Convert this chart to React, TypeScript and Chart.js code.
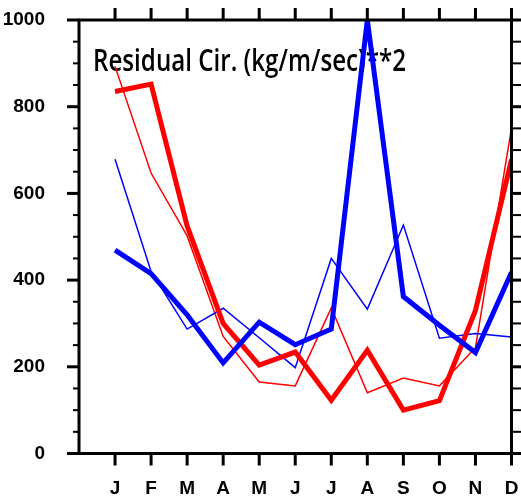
import { useEffect, useRef } from 'react';
import { Chart, registerables } from 'chart.js';

Chart.register(...registerables);

const months = ['J', 'F', 'M', 'A', 'M', 'J', 'J', 'A', 'S', 'O', 'N', 'D'];
const monthIndex = [1, 2, 3, 4, 5, 6, 7, 8, 9, 10, 11, 12];
const thickRed = [835, 852, 525, 300, 204, 234, 123, 238, 100, 122, 330, 678];
const thinRed = [893, 647, 502, 270, 165, 156, 336, 140, 174, 156, 244, 751];
const thickBlue = [469, 415, 320, 209, 303, 251, 287, 1000, 362, 296, 233, 418];
const thinBlue = [679, 420, 287, 335, 267, 198, 450, 333, 527, 266, 277, 269];
const yMajorTicks = [0, 200, 400, 600, 800, 1000];
const yMinorStep = 50;
const titleText = 'Residual Cir. (kg/m/sec)**2';

const toPoints = (vals: number[]) => vals.map((v, i) => ({ x: monthIndex[i], y: v }));

const titlePlugin = {
  id: 'innerTitle',
  beforeDatasetsDraw(chart: any) {
    const { ctx, chartArea: a } = chart;
    ctx.save();
    ctx.font = '600 30px "Open Sans"';
    ctx.fillStyle = '#000';
    ctx.textAlign = 'left';
    ctx.textBaseline = 'alphabetic';
    ctx.fillText(titleText, a.left + 14, a.top + 51, 313);
    ctx.restore();
  },
};

const framePlugin = {
  id: 'frame',
  afterDraw(chart: any) {
    const { ctx, chartArea: a, scales } = chart;
    const xs = scales.x;
    const ys = scales.y;
    const line = (x1: number, y1: number, x2: number, y2: number) => {
      ctx.beginPath();
      ctx.moveTo(x1, y1);
      ctx.lineTo(x2, y2);
      ctx.stroke();
    };
    ctx.save();
    ctx.strokeStyle = '#000';
    ctx.lineCap = 'butt';
    const yMax = yMajorTicks[yMajorTicks.length - 1];
    for (let v = 0; v <= yMax; v += yMinorStep) {
      const py = ys.getPixelForValue(v);
      const major = yMajorTicks.includes(v);
      ctx.lineWidth = major ? 3 : 2;
      line(a.left - (major ? 12 : 6), py, a.left, py);
      line(a.right, py, a.right + (major ? 12 : 10), py);
    }
    ctx.lineWidth = 3;
    monthIndex.forEach((m) => {
      const px = xs.getPixelForValue(m);
      line(px, a.bottom, px, a.bottom + 12);
      line(px, a.top - 12, px, a.top);
    });
    ctx.lineWidth = 3;
    ctx.lineJoin = 'miter';
    ctx.strokeRect(a.left, a.top, a.right - a.left, a.bottom - a.top);
    ctx.restore();
  },
};

export default function App() {
  const ref = useRef<HTMLCanvasElement | null>(null);
  useEffect(() => {
    if (!ref.current) return;
    const tickFont = { family: '"Liberation Sans", Arial, sans-serif', size: 19, weight: 'bold' as const };
    const chart = new Chart(ref.current, {
      type: 'line',
      data: {
        datasets: [
          { label: 'thick blue', data: toPoints(thickBlue), borderColor: '#0000ff', borderWidth: 5, order: 1 },
          { label: 'thick red', data: toPoints(thickRed), borderColor: '#ff0000', borderWidth: 5, order: 2 },
          { label: 'thin blue', data: toPoints(thinBlue), borderColor: '#0000ff', borderWidth: 1.5, order: 3 },
          { label: 'thin red', data: toPoints(thinRed), borderColor: '#ff0000', borderWidth: 1.5, order: 4 },
        ],
      },
      options: {
        animation: false,
        responsive: true,
        maintainAspectRatio: false,
        layout: { padding: { top: 20, right: 9.5, left: 0, bottom: 0 } },
        elements: {
          point: { radius: 0, hoverRadius: 0 },
          line: { tension: 0, borderJoinStyle: 'miter', fill: false },
        },
        plugins: { legend: { display: false }, tooltip: { enabled: false }, title: { display: false } },
        scales: {
          x: {
            type: 'linear',
            min: 0,
            max: 12,
            grid: { display: false },
            border: { display: false },
            ticks: {
              stepSize: 1,
              autoSkip: false,
              maxRotation: 0,
              padding: 16,
              color: '#000',
              font: tickFont,
              callback: (v: any) => (v >= 1 && v <= 12 ? months[v - 1] : ''),
            },
            afterFit: (s: any) => {
              s.height = 44.5;
              s.paddingLeft = 0;
              s.paddingRight = 0;
            },
          },
          y: {
            type: 'linear',
            min: 0,
            max: 1000,
            grid: { display: false },
            border: { display: false },
            ticks: {
              stepSize: 200,
              padding: 26,
              color: '#000',
              font: tickFont,
              callback: (v: any) => String(v),
            },
            afterFit: (s: any) => {
              s.width = 79;
              s.paddingTop = 0;
              s.paddingBottom = 0;
            },
          },
        },
      },
      plugins: [titlePlugin, framePlugin],
    });
    return () => chart.destroy();
  }, []);
  return (
    <div style={{ position: 'fixed', left: 0, top: 0, width: 521, height: 498, background: '#fff' }}>
      <canvas ref={ref} />
    </div>
  );
}
